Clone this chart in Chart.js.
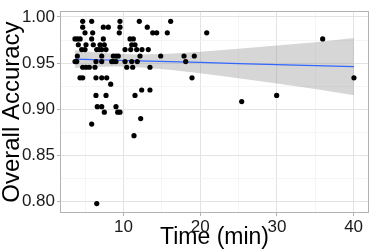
<!DOCTYPE html>
<html><head><meta charset="utf-8">
<script src="https://cdn.jsdelivr.net/npm/chart.js@4"></script>
<style>html,body{margin:0;padding:0;background:#fff;overflow:hidden}</style>
</head><body>
<canvas id="c" width="374" height="251"></canvas>
<script>
// ---- data ----
const timeMin = [
  4.68, 5.85, 9.54, 12.06, 16.15,
  4.68, 7.37, 8.02, 9.54, 13.10,
  4.98, 5.98, 9.45, 13.81, 14.33, 15.71, 20.85,
  3.67, 4.00, 4.35, 5.85, 7.37, 10.85, 11.28, 35.97,
  4.11, 5.11, 6.06, 6.94, 7.50, 11.07, 11.50,
  4.55, 4.98, 6.51, 6.84, 7.16, 7.72, 10.20, 10.94, 11.72, 12.41, 13.23,
  3.98, 7.16, 8.67, 9.02, 9.32, 12.15, 14.85, 17.89, 19.23,
  3.68, 3.90, 6.41, 7.16, 8.46, 8.67, 9.02, 10.20, 11.07, 11.80, 18.11,
  4.68, 5.11, 5.54, 6.28, 10.42, 11.20, 13.45,
  4.33, 4.68, 6.41, 7.16, 7.81, 18.93, 40.05,
  8.33,
  12.37, 13.45,
  6.41, 7.72, 11.50, 29.97,
  25.41,
  6.58, 7.16, 9.02,
  7.50, 9.24, 9.54,
  12.24,
  5.85,
  11.37,
  6.51
];
const accuracy = [
  0.9953, 0.9953, 0.9953, 0.9953, 0.9953,
  0.9890, 0.9890, 0.9890, 0.9890, 0.9890,
  0.9828, 0.9828, 0.9828, 0.9828, 0.9828, 0.9828, 0.9828,
  0.9762, 0.9762, 0.9762, 0.9762, 0.9762, 0.9762, 0.9762, 0.9762,
  0.9699, 0.9699, 0.9699, 0.9699, 0.9699, 0.9699, 0.9699,
  0.9647, 0.9647, 0.9647, 0.9647, 0.9647, 0.9647, 0.9647, 0.9647, 0.9647, 0.9647, 0.9647,
  0.9577, 0.9577, 0.9577, 0.9577, 0.9577, 0.9577, 0.9577, 0.9577, 0.9577,
  0.9517, 0.9517, 0.9517, 0.9517, 0.9517, 0.9517, 0.9517, 0.9517, 0.9517, 0.9517, 0.9517,
  0.9455, 0.9455, 0.9455, 0.9455, 0.9455, 0.9455, 0.9455,
  0.9340, 0.9340, 0.9340, 0.9340, 0.9340, 0.9340, 0.9340,
  0.9271,
  0.9208, 0.9208,
  0.9149, 0.9149, 0.9149, 0.9149,
  0.9083,
  0.9027, 0.9027, 0.9027,
  0.8968, 0.8968, 0.8968,
  0.8898,
  0.8839,
  0.8713,
  0.7976
];
const fitTime     = [3.67, 6, 9, 12, 16, 20, 25, 30, 35, 40.05];
const fitAccuracy = [0.9543, 0.9538, 0.9531, 0.9524, 0.9515, 0.9507, 0.9495, 0.9484, 0.9473, 0.9462];
const bandUpper   = [0.9638, 0.9619, 0.9600, 0.9594, 0.9602, 0.9624, 0.9655, 0.9690, 0.9727, 0.9772];
const bandLower   = [0.9448, 0.9457, 0.9462, 0.9454, 0.9428, 0.9390, 0.9335, 0.9278, 0.9219, 0.9152];
const xMajorTicks = [10, 20, 30, 40];
const xMinorTicks = [5, 15, 25, 35];
const yMajorTicks = [0.80, 0.85, 0.90, 0.95, 1.00];
const yMinorTicks = [0.825, 0.875, 0.925, 0.975];
const xTitle = 'Time (min)';
const yTitle = 'Overall Accuracy';

// ---- chart ----
const FONT = "'Liberation Sans', Arial, Helvetica, sans-serif";
const pts = timeMin.map((t, i) => ({x: t, y: accuracy[i]}));
const fitPts = fitTime.map((t, i) => ({x: t, y: fitAccuracy[i]}));
const upPts = fitTime.map((t, i) => ({x: t, y: bandUpper[i]}));
const loPts = fitTime.map((t, i) => ({x: t, y: bandLower[i]}));

function buildTicks(major, minor) {
  return s => { s.ticks = major.concat(minor).sort((a, b) => a - b).map(v => ({value: v})); };
}
const isMajorX = v => xMajorTicks.includes(v);
const isMajorY = v => yMajorTicks.includes(v);

const panelBorder = {
  id: 'panelBorder',
  afterDatasetsDraw(chart) {
    const a = chart.chartArea, ctx = chart.ctx;
    ctx.save();
    ctx.strokeStyle = '#B3B3B3';
    ctx.lineWidth = 1;
    ctx.strokeRect(Math.round(a.left) - 0.5, Math.round(a.top) - 0.5,
                   Math.round(a.right - a.left) + 1, Math.round(a.bottom - a.top) + 1);
    ctx.restore();
  }
};

new Chart(document.getElementById('c'), {
  type: 'scatter',
  data: {
    datasets: [
      {type: 'line', data: upPts, fill: '+1', backgroundColor: 'rgba(153,153,153,0.4)',
       borderColor: 'rgba(0,0,0,0)', borderWidth: 0, pointRadius: 0, order: 3},
      {type: 'line', data: loPts, fill: false, borderColor: 'rgba(0,0,0,0)',
       borderWidth: 0, pointRadius: 0, order: 3},
      {type: 'line', data: fitPts, fill: false, borderColor: '#3366FF', borderWidth: 1.2,
       pointRadius: 0, order: 2},
      {type: 'scatter', data: pts, backgroundColor: '#000', borderColor: '#000',
       borderWidth: 0, pointRadius: 2.6, order: 1}
    ]
  },
  options: {
    responsive: false, animation: false, devicePixelRatio: 1, events: [],
    layout: {padding: {top: 5, right: 6, bottom: 0, left: 0}},
    plugins: {legend: {display: false}, tooltip: {enabled: false}},
    scales: {
      x: {
        type: 'linear', min: 1.85, max: 41.88,
        afterBuildTicks: buildTicks(xMajorTicks, xMinorTicks),
        afterFit: s => { s.height = 39; },
        ticks: {autoSkip: false, maxRotation: 0, padding: 1, color: '#1a1a1a',
                font: {family: FONT, size: 17},
                callback: v => isMajorX(v) ? String(v) : ''},
        grid: {
          color: c => isMajorX(c.tick.value) ? '#E3E3E3' : '#F1F1F1',
          lineWidth: c => isMajorX(c.tick.value) ? 1 : 0.7,
          tickColor: c => isMajorX(c.tick.value) ? '#B3B3B3' : 'rgba(0,0,0,0)',
          tickLength: 4, drawTicks: true
        },
        border: {display: false},
        title: {display: true, text: xTitle, color: '#000',
                font: {family: FONT, size: 23, lineHeight: 1},
                padding: {top: 0, bottom: 2}}
      },
      y: {
        type: 'linear', min: 0.7885, max: 1.0052,
        afterBuildTicks: buildTicks(yMajorTicks, yMinorTicks),
        afterFit: s => { s.width = 61; },
        ticks: {autoSkip: false, padding: 2, color: '#1a1a1a',
                font: {family: FONT, size: 17},
                callback: v => isMajorY(v) ? v.toFixed(2) : ''},
        grid: {
          color: c => isMajorY(c.tick.value) ? '#E3E3E3' : '#F1F1F1',
          lineWidth: c => isMajorY(c.tick.value) ? 1 : 0.7,
          tickColor: c => isMajorY(c.tick.value) ? '#B3B3B3' : 'rgba(0,0,0,0)',
          tickLength: 4, drawTicks: true
        },
        border: {display: false},
        title: {display: true, text: yTitle, color: '#000',
                font: {family: FONT, size: 24, lineHeight: 1},
                padding: {top: 0, bottom: 0}}
      }
    }
  },
  plugins: [panelBorder]
});
</script>
</body></html>
